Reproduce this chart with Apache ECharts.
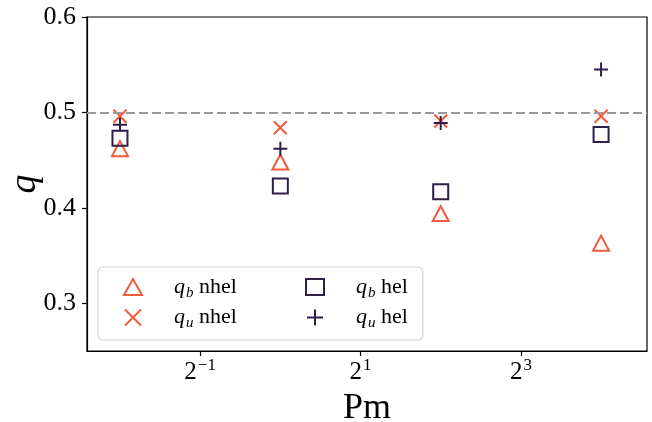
<!DOCTYPE html>
<html>
<head>
<meta charset="utf-8">
<script src="https://cdn.jsdelivr.net/npm/echarts@6/dist/echarts.min.js"></script>
<style>
html,body{margin:0;padding:0;background:#fff;}
#c{width:652px;height:422px;}
</style>
</head>
<body>
<div id="c"></div>
<script>
// ---- data ----
const pm = [0.25, 1, 4, 16];
const qbNhel = [0.462, 0.448, 0.394, 0.363];
const quNhel = [0.496, 0.484, 0.491, 0.496];
const qbHel = [0.473, 0.423, 0.417, 0.477];
const quHel = [0.487, 0.462, 0.489, 0.545];
const refLine = 0.5;
const xTicks = [0.5, 2, 8];
const yTicks = [0.3, 0.4, 0.5, 0.6];
const legendCol1 = ['qb nhel', 'qu nhel'];
const legendCol2 = ['qb hel', 'qu hel'];

// ---- styling ----
const ORANGE = '#ef5b3b';
const DARK = '#2f1f48';
const FONT = 'Liberation Serif';
const pairs = (ys) => pm.map((x, i) => [x, ys[i]]);

const legendText = {
  'qb nhel': ['b', 'nhel'],
  'qb hel': ['b', 'hel'],
  'qu nhel': ['u', 'nhel'],
  'qu hel': ['u', 'hel']
};

const legendTextStyle = {
  fontFamily: FONT, fontSize: 22, color: '#000',
  rich: {
    i: { fontFamily: FONT, fontSize: 22, fontStyle: 'italic', color: '#000', padding: [0, 0, 0, 27] },
    s: { fontFamily: FONT, fontSize: 15, fontStyle: 'italic', color: '#000', padding: [12, 0, 0, 1] },
    t: { fontFamily: FONT, fontSize: 22, color: '#000' }
  }
};
const legendFormatter = (name) => {
  const t = legendText[name];
  return '{i|q}{s|' + t[0] + '}{t| ' + t[1] + '}';
};

const chart = echarts.init(document.getElementById('c'));
const hollow = (c) => ({ color: 'rgba(0,0,0,0)', borderColor: c, borderWidth: 2, opacity: 1 });

chart.setOption({
  animation: false,
  backgroundColor: '#fff',
  grid: { left: 87, right: 5, top: 17, bottom: 71, containLabel: false, outerBoundsMode: 'none',
          show: true, borderColor: '#000', borderWidth: 1.2, backgroundColor: 'rgba(0,0,0,0)' },
  xAxis: {
    type: 'log', logBase: 2, min: 0.188, max: 23.8,
    name: 'Pm', nameLocation: 'middle', nameGap: 40, nameMoveOverlap: false,
    nameTextStyle: { fontFamily: FONT, fontSize: 36, color: '#000' },
    axisLine: { lineStyle: { color: '#000', width: 1.2 } },
    axisTick: { show: true, length: 5, lineStyle: { color: '#000', width: 1.2 }, customValues: xTicks },
    axisLabel: {
      customValues: xTicks, margin: 6,
      formatter: (v) => '{b|2}{s|' + String(Math.round(Math.log2(v))).replace('-', '\u2212') + '}',
      rich: {
        b: { fontFamily: FONT, fontSize: 25, color: '#000' },
        s: { fontFamily: FONT, fontSize: 17, color: '#000', padding: [0, 0, 14, 1] }
      }
    },
    splitLine: { show: false }
  },
  yAxis: {
    type: 'value', min: 0.25, max: 0.6,
    name: 'q', nameLocation: 'middle', nameGap: 43, nameRotate: 90, nameMoveOverlap: false,
    nameTextStyle: { fontFamily: FONT, fontSize: 38, fontStyle: 'italic', color: '#000' },
    axisLine: { show: true, lineStyle: { color: '#000', width: 1.2 } },
    axisTick: { show: true, length: 5, lineStyle: { color: '#000', width: 1.2 }, customValues: yTicks },
    axisLabel: { customValues: yTicks, margin: 11, fontFamily: FONT, fontSize: 26, color: '#000', formatter: (v) => v.toFixed(1) },
    splitLine: { show: false }
  },
  legend: [
    {
      data: legendCol1, orient: 'vertical',
      left: 98, top: 267,
      padding: [9, 186, 9, 25],
      itemGap: 6, itemWidth: 18, itemHeight: 16,
      backgroundColor: 'rgba(255,255,255,0.8)',
      borderColor: '#d4d4d4', borderWidth: 1.2, borderRadius: 5,
      formatter: legendFormatter, textStyle: legendTextStyle
    },
    {
      data: legendCol2, orient: 'vertical',
      left: 305, top: 276,
      padding: 0,
      itemGap: 6, itemWidth: 18, itemHeight: 16,
      formatter: legendFormatter, textStyle: legendTextStyle
    }
  ],
  series: [
    {
      name: 'qb nhel', type: 'scatter', data: pairs(qbNhel),
      symbol: 'triangle', symbolSize: [16, 15], itemStyle: hollow(ORANGE),
      markLine: {
        silent: true, symbol: ['none', 'none'], label: { show: false },
        lineStyle: { color: '#9a9a9a', width: 2, type: [9, 4], opacity: 1 },
        data: [{ yAxis: refLine }]
      }
    },
    {
      name: 'qb hel', type: 'scatter', data: pairs(qbHel),
      symbol: 'rect', symbolSize: 15, itemStyle: hollow(DARK)
    },
    {
      name: 'qu nhel', type: 'scatter', data: pairs(quNhel),
      symbol: 'path://M0,0L10,10M10,0L0,10', symbolSize: 13, itemStyle: hollow(ORANGE)
    },
    {
      name: 'qu hel', type: 'scatter', data: pairs(quHel),
      symbol: 'path://M5,0L5,10M0,5L10,5', symbolSize: 14, itemStyle: hollow(DARK)
    }
  ]
});
</script>
</body>
</html>
